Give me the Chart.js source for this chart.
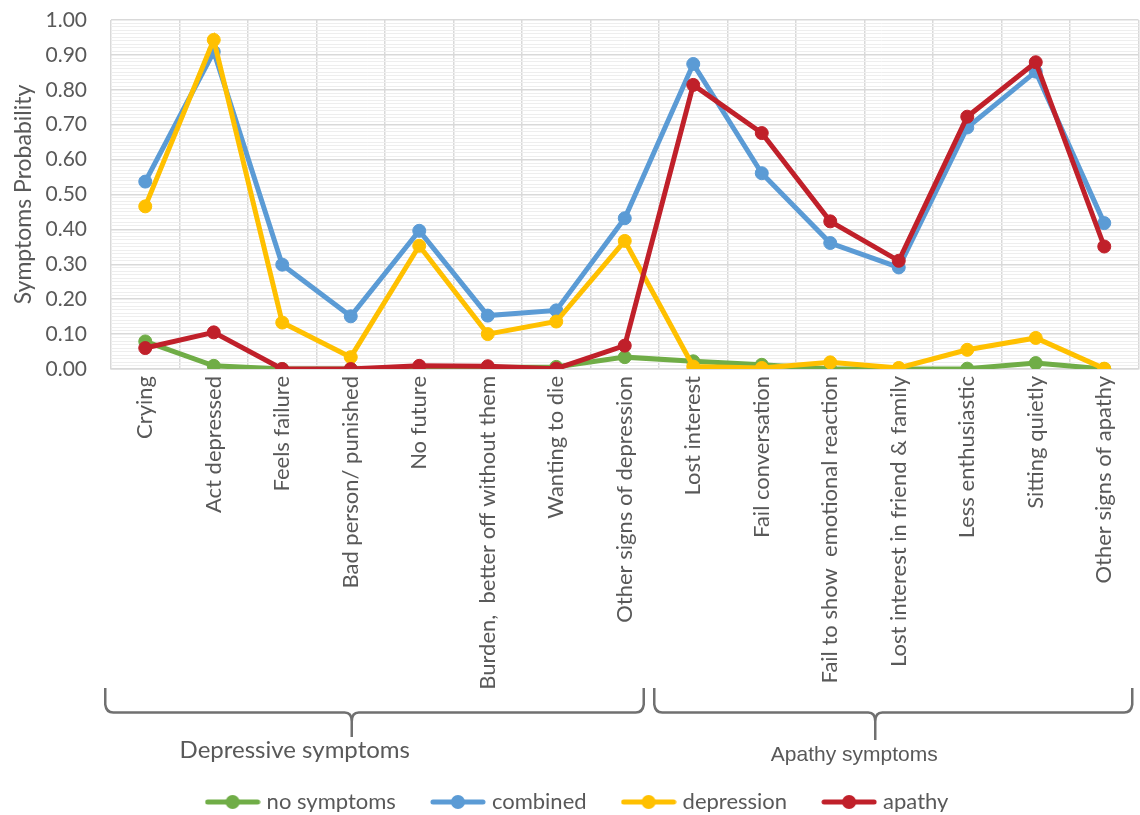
<!DOCTYPE html>
<html>
<head>
<meta charset="utf-8">
<script src="https://cdn.jsdelivr.net/npm/chart.js@4.4.1/dist/chart.umd.min.js"></script>
<style>
  html, body { margin: 0; padding: 0; background: #fff; overflow: hidden; }
  #wrap { width: 1146px; height: 815px; }
</style>
</head>
<body>
<div id="wrap"><canvas id="chart" width="1146" height="815"></canvas></div>
<script>
// categories along the x axis
const categories = [
  'Crying', 'Act depressed', 'Feels failure', 'Bad person/ punished', 'No future',
  'Burden,  better off without them', 'Wanting to die', 'Other signs of depression',
  'Lost interest', 'Fail conversation', 'Fail to show  emotional reaction',
  'Lost interest in friend & family', 'Less enthusiastic', 'Sitting quietly', 'Other signs of apathy'
];

// series values
const noSymptoms = [0.079, 0.009, 0.000, 0.000, 0.004, 0.004, 0.006, 0.034, 0.022, 0.012, 0.000, 0.000, 0.001, 0.017, 0.000];
const combined   = [0.537, 0.909, 0.299, 0.151, 0.396, 0.153, 0.168, 0.432, 0.874, 0.561, 0.361, 0.291, 0.692, 0.852, 0.418];
const depression = [0.466, 0.943, 0.133, 0.034, 0.353, 0.100, 0.136, 0.367, 0.007, 0.003, 0.019, 0.003, 0.055, 0.089, 0.001];
const apathy     = [0.060, 0.105, 0.000, 0.000, 0.009, 0.008, 0.001, 0.067, 0.814, 0.676, 0.423, 0.310, 0.723, 0.879, 0.351];

const seriesNames = ['no symptoms', 'combined', 'depression', 'apathy'];
const seriesColors = ['#70AD47', '#5B9BD5', '#FFC000', '#C0202A'];

// y axis: 0.00 .. 1.00, labelled every 0.10, light minor lines every 0.01
const yMin = 0;
const yMax = 1;
const yMinorStep = 0.01;
const yMajorEvery = 10;

// bracket groups under the category labels
const groups = [
  { label: 'Depressive symptoms', first: 0, last: 7 },
  { label: 'Apathy symptoms', first: 8, last: 14 }
];

const textColor = '#595959';

const isMajor = v => Math.round(v / yMinorStep) % yMajorEvery === 0;

// legend marker: short line with a dot in the middle
function legendMarker(color) {
  const c = document.createElement('canvas');
  c.width = 56; c.height = 16;
  const g = c.getContext('2d');
  g.strokeStyle = color;
  g.lineWidth = 5;
  g.lineCap = 'round';
  g.beginPath(); g.moveTo(3, 8); g.lineTo(53, 8); g.stroke();
  g.fillStyle = color;
  g.beginPath(); g.arc(28, 8, 7, 0, Math.PI * 2); g.fill();
  return c;
}
const markers = seriesColors.map(legendMarker);

// brace placement, relative to the x scale
const groupStyle = [
  { left: -40, right: 19, tipAt: 3, tipShift: 1, top: 319, line: 343.5, tipEnd: 368,
    font: '24px Lato', textShift: -57, textY: 381 },
  { left: -39, right: 28, tipAt: 10, tipShift: 45, top: 319, line: 343.5, tipEnd: 371,
    font: '21px "Liberation Sans"', textShift: -21, textY: 386 }
];

const bracketPlugin = {
  id: 'groupBrackets',
  afterDraw(chart) {
    const x = chart.scales.x;
    const ctx = chart.ctx;
    const base = chart.chartArea.bottom;
    groups.forEach((grp, i) => {
      const st = groupStyle[i];
      const L = x.getPixelForValue(grp.first) + st.left;
      const R = x.getPixelForValue(grp.last) + st.right;
      const T = x.getPixelForValue(st.tipAt) + st.tipShift;
      const yTop = base + st.top, yLine = base + st.line, yTip = base + st.tipEnd;
      ctx.save();
      ctx.strokeStyle = '#707070';
      ctx.lineWidth = 2.5;
      ctx.lineJoin = 'round';
      ctx.beginPath();
      ctx.moveTo(L, yTop);
      ctx.lineTo(L, yLine - 8);
      ctx.quadraticCurveTo(L + 1, yLine, L + 8, yLine);
      ctx.lineTo(T - 7, yLine);
      ctx.quadraticCurveTo(T, yLine, T, yLine + 9);
      ctx.lineTo(T, yTip);
      ctx.moveTo(T, yLine + 9);
      ctx.quadraticCurveTo(T, yLine, T + 7, yLine);
      ctx.lineTo(R - 8, yLine);
      ctx.quadraticCurveTo(R - 1, yLine, R, yLine - 8);
      ctx.lineTo(R, yTop);
      ctx.stroke();
      ctx.fillStyle = textColor;
      ctx.font = st.font;
      ctx.textAlign = 'center';
      ctx.textBaseline = 'middle';
      ctx.fillText(grp.label, T + st.textShift, base + st.textY);
      ctx.restore();
    });
  }
};

const seriesData = [noSymptoms, combined, depression, apathy];

new Chart(document.getElementById('chart'), {
  type: 'line',
  data: {
    labels: categories,
    datasets: seriesData.map((d, i) => ({
      label: seriesNames[i],
      data: d,
      borderColor: seriesColors[i],
      backgroundColor: seriesColors[i],
      pointBackgroundColor: seriesColors[i],
      pointBorderColor: seriesColors[i],
      borderWidth: 5,
      pointRadius: 6.5,
      pointHoverRadius: 6.5,
      pointBorderWidth: 1,
      tension: 0,
      fill: false,
      order: seriesData.length - i   // apathy drawn on top
    }))
  },
  options: {
    responsive: false,
    animation: false,
    layout: { padding: { top: 20, left: 12, right: 0, bottom: 3 } },
    plugins: {
      tooltip: { enabled: false },
      legend: {
        position: 'bottom',
        maxHeight: 60,
        labels: {
          usePointStyle: true,
          pointStyleWidth: 46,
          padding: 39,
          color: textColor,
          font: { family: 'Lato', size: 22 },
          sort: (a, b) => a.datasetIndex - b.datasetIndex,
          generateLabels: chart => Chart.defaults.plugins.legend.labels.generateLabels(chart)
            .map(item => ({ ...item, pointStyle: markers[item.datasetIndex] }))
        }
      }
    },
    scales: {
      x: {
        offset: true,
        afterFit: s => { s.height = 383; },
        grid: { offset: true, drawTicks: false, color: '#D9D9D9', lineWidth: 1.5 },
        border: { color: '#D9D9D9', width: 1.5 },
        ticks: {
          minRotation: 90, maxRotation: 90, autoSkip: false, padding: 7,
          color: textColor, font: { family: 'Lato', size: 22 }
        }
      },
      y: {
        min: yMin,
        max: yMax,
        afterFit: s => { s.width = 99; },
        border: { display: false },
        grid: {
          drawTicks: true,
          tickLength: 24,
          tickColor: 'rgba(0,0,0,0)',
          color: c => (c.tick && isMajor(c.tick.value)) ? '#D9D9D9' : '#EEEEEE',
          lineWidth: c => (c.tick && isMajor(c.tick.value)) ? 1.5 : 1
        },
        ticks: {
          stepSize: yMinorStep,
          autoSkip: false,
          padding: 0,
          color: textColor,
          font: { family: 'Lato', size: 21 },
          callback: v => isMajor(v) ? v.toFixed(2) : ''
        },
        title: {
          display: true,
          text: 'Symptoms Probability',
          color: textColor,
          font: { family: 'Lato', size: 23, lineHeight: 1 },
          padding: { top: 0, bottom: 0 }
        }
      }
    }
  },
  plugins: [bracketPlugin]
});
</script>
</body>
</html>
